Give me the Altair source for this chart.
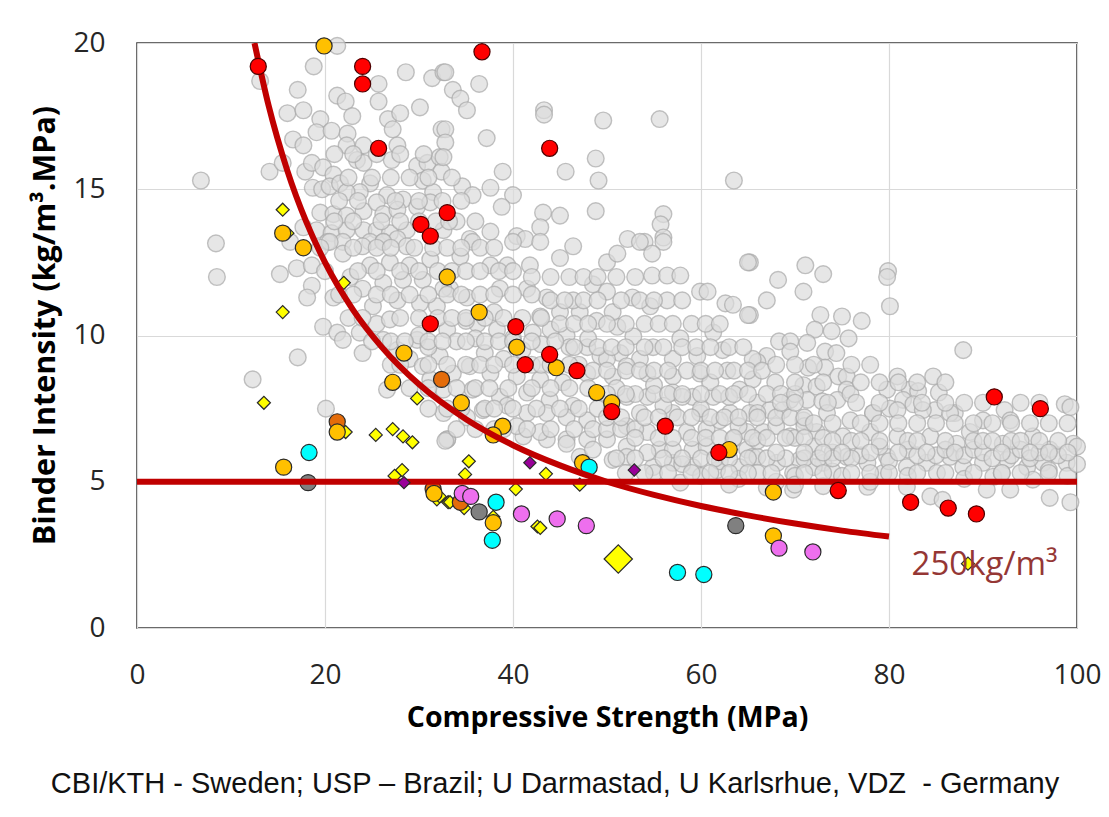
import altair as alt
import pandas as pd

# ---------------- data ----------------
gray_pts = [
    (6.8,15.3),(8.4,13.15),(8.5,12.0),(17.1,9.25),(12.3,8.5),(20.1,7.5),
    (21.3,19.9),(18.8,19.2),(13.1,18.7),(17.1,18.4),(21.3,18.2),(22.2,18.0),(25.7,18.6),(25.7,18.0),
    (28.6,19.0),(31.4,18.8),(32.6,19.0),(30.1,17.8),(16.0,17.6),(17.7,17.7),(19.5,17.4),(22.9,17.5),
    (26.7,17.4),(28.0,17.6),(27.2,17.05),(32.4,17.05),(16.6,16.7),(17.7,16.5),(19.1,16.95),(20.7,17.0),
    (22.4,16.9),(22.3,16.5),(24.1,16.5),(23.4,16.0),(24.1,15.9),(27.1,16.0),(27.7,16.5),(29.8,15.8),
    (30.9,15.9),(32.2,16.1),(32.4,15.6),(14.1,15.6),(15.5,15.9),(17.9,15.6),(18.6,15.9),(19.8,15.75),
    (20.9,15.5),(18.7,15.05),(19.7,15.0),(20.5,15.1),(21.6,15.2),(24.8,15.2),(23.7,14.9),(22.3,14.9),
    (26.6,14.8),(28.3,14.65),(30.4,15.3),(31.5,14.9),(19.5,14.2),(20.9,14.15),(22.3,14.1),(24.1,14.25),
    (25.5,14.55),(26.2,14.15),(27.7,14.3),(29.8,14.4),(31.2,14.55),(17.7,13.7),(19.1,13.6),(20.7,13.5),
    (22.3,13.6),(24.1,13.6),(25.5,13.6),(26.9,13.5),(28.7,13.6),(32.6,13.6),(16.3,13.2),(20.3,13.2),
    (21.9,13.2),(24.8,13.2),(26.2,13.2),(27.7,13.3),
    (32.8,19.0),(36.4,18.6),(33.6,18.4),(34.4,18.1),(35.1,17.7),(32.8,17.05),(37.2,16.75),(32.8,16.6),
    (32.6,16.1),(38.9,15.6),(37.6,15.05),(40.0,14.8),(38.8,14.4),(34.6,15.1),(35.7,14.8),(34.0,13.9),
    (37.6,13.55),(35.4,13.3),(43.3,17.7),(43.3,17.55),(49.6,17.35),(55.6,17.4),(48.8,16.05),(45.6,15.6),
    (49.1,15.3),(63.5,15.3),(43.2,14.2),(45.0,14.1),(48.8,14.25),(56.0,14.15),(55.7,13.8),(56.0,13.35),
    (52.2,13.3),(54.0,13.2),(42.9,13.7),(40.4,13.4),(41.3,13.3),
    (65.2,12.5),(71.1,12.4),(73.0,12.1),(68.2,11.9),(70.9,11.5),(67.0,11.2),(79.9,12.2),(79.8,12.0),
    (80.1,11.0),(65.2,10.7),(72.7,10.7),(75.0,10.65),(77.1,10.5),(72.1,10.2),(73.9,10.15),(75.7,9.9),
    (68.3,9.8),(69.5,9.8),(71.3,9.75),(73.2,9.45),(74.4,9.4),(87.9,9.5),(67.0,9.3),(69.5,9.45),
    (71.4,8.9),(73.2,8.9),(74.6,8.6),(75.5,8.6),(80.9,8.6),(84.7,8.6),(66.0,9.1),(67.9,8.4),(70.9,8.3),
    (72.3,8.25),(75.5,8.15),(79.8,8.15),(82.2,8.15),(85.3,8.05),(83.1,8.1),(69.5,7.8),(71.3,7.8),
    (72.9,7.75),(74.5,7.8),(75.9,8.0),(81.5,7.8),(82.6,7.65),(84.9,7.45),(87.0,7.35),(98.7,7.65),
    (92.3,7.45),(66.0,7.7),(67.3,7.45),(80.1,7.5),(78.3,7.35),
    (35.7,13.2),(40.0,13.2),(42.9,13.2),(46.4,13.05),(53.5,13.2),(56.0,13.2),(50.0,12.5),(51.1,12.8),
    (54.8,12.8),(65.0,12.5),(54.8,12.05),(56.4,12.05),(57.8,12.05),(59.9,11.5),(60.7,11.5),(62.6,11.1),
    (63.4,11.05),(65.0,10.7),(52.7,11.3),(56.4,11.2),(54.6,11.0),(48.5,11.75),(50.0,11.5),(61.3,10.1),
    (57.8,9.9),(54.9,9.6),(52.8,9.97),(51.1,10.3),(48.9,10.5),(50.6,10.8),(47.1,10.8),(45.0,10.8),
    (42.9,10.65),(43.6,11.3),(46.4,11.2),(41.5,11.6),(38.6,11.6),(39.4,12.4),(41.8,12.4),(45.0,12.65),
    (37.6,12.4),(34.4,12.7),(33.3,11.6),(35.1,11.3),(36.2,10.4),(38.3,10.2),(42.1,10.1),(45.7,10.0),
    (47.9,9.6),(49.3,9.3),(51.4,9.4),(53.5,9.2),(57.0,9.2),(59.6,9.3),(62.3,9.5),(62.8,8.8),(65.5,9.2),
    (59.9,8.7),(57.0,8.6),(54.3,8.7),(52.1,8.95),(50.6,8.6),(47.9,8.7),(45.3,8.4),(42.9,8.5),(40.4,8.6),
    (37.6,8.7),(35.4,8.95),(33.6,8.7),(35.7,8.15),(38.6,7.9),(41.5,8.05),(43.9,7.8),(46.4,7.6),(52.1,7.9),
    (54.3,7.9),(57.0,8.05),(59.1,7.9),(61.3,7.9),(64.1,8.15),(65.5,8.5),(53.5,7.35),(57.0,7.35),
    (59.9,7.35),(63.1,7.35),(65.2,7.35),(52.1,6.9),(54.3,6.7),(58.5,6.7),(60.6,6.8),(64.9,6.7),(47.9,7.1),
    (45.7,7.2),(43.6,7.35),(41.5,7.35),(39.4,7.6),(36.8,7.45),(35.1,7.2),(33.0,6.45),(41.1,6.55),
    (43.6,6.45),(45.7,6.45),(47.9,6.45),(50.0,6.45),(52.1,6.2),(55.6,6.1),(59.1,6.1),(64.9,6.1),
    (40.4,6.9),(42.9,6.7),(45.7,6.3),(47.1,5.85),(48.5,6.1),(50.6,5.75),(52.1,5.85),(54.9,5.5),(57.0,5.65),
    (57.8,4.97),(59.1,5.5),(61.7,5.4),(64.1,5.5),(65.5,5.85),(54.3,6.0),(57.0,6.1),(60.6,6.2),(63.4,6.45),
    (66.0,7.35),(68.7,7.45),(70.9,7.1),(73.4,7.35),(75.9,7.1),(78.3,7.35),(80.9,7.45),(83.6,7.45),
    (86.5,7.35),(90.0,7.1),(92.9,7.1),(99.3,7.55),(99.6,6.3),(66.6,6.7),(69.5,6.55),(72.3,6.7),(75.1,6.55),
    (78.0,6.7),(80.9,6.55),(84.4,6.55),(87.2,6.3),(88.6,6.7),(92.1,6.3),(95.3,6.55),(97.1,6.1),(66.0,5.85),
    (68.1,5.65),(70.5,5.75),(73.0,5.65),(75.5,5.85),(77.7,5.65),(79.8,5.85),(81.9,5.5),(84.0,5.65),
    (86.5,5.85),(87.9,5.5),(90.0,5.65),(92.6,5.75),(94.7,5.5),(96.4,5.65),(98.9,5.65),(69.8,5.3),
    (74.0,5.35),(79.4,5.3),(85.1,5.3),(91.1,5.17),(95.3,5.07),(84.4,4.5),(85.7,4.38),(90.4,4.73),
    (92.9,4.73),(97.1,4.45),(99.3,4.3),(81.9,4.83),(77.7,4.83),(69.8,4.73),
    (20.5,13.2),(21.9,12.8),(24.0,13.05),(26.2,13.2),(28.7,13.05),(15.2,12.1),(17.0,12.3),(18.6,12.4),
    (18.6,11.7),(18.1,11.3),(20.9,11.3),(22.7,12.0),(24.8,12.4),(26.9,12.5),(29.0,12.4),(31.2,12.6),
    (24.0,11.6),(26.2,11.8),(28.3,11.9),(30.4,11.9),(32.6,11.6),(25.1,11.0),(27.7,11.2),(30.1,11.1),
    (31.9,11.0),(19.8,10.3),(21.3,10.1),(21.9,9.85),(23.7,10.1),(25.5,10.4),(26.9,10.55),(24.0,9.4),
    (26.2,9.85),(27.7,9.5),(29.8,9.85),(29.0,9.2),(30.4,8.95),(32.2,9.3),(31.2,8.5),(32.6,8.15),
    (26.6,8.15),(32.6,7.35),(33.0,6.45),(32.8,6.4),
    (30.0,10.0),(31.0,9.6),(33.0,10.2),(34.0,9.8),(35.0,10.5),(36.0,9.9),(37.0,9.4),(38.0,10.8),
    (39.0,9.2),(40.0,9.9),(41.0,9.5),(42.0,9.0),(43.0,9.7),(44.0,10.2),(46.0,9.6),(47.0,9.0),(48.0,9.9),
    (50.0,9.2),(51.0,8.2),(53.0,8.0),(55.0,8.3),(56.0,7.6),(58.0,7.9),(60.0,7.5),(61.0,8.4),(62.0,7.1),
    (63.0,7.9),(64.0,6.9),(66.0,6.4),(68.0,6.9),(70.0,6.5),(71.0,6.9),(72.0,6.2),(74.0,6.0),(76.0,6.4),
    (77.0,5.9),(79.0,6.2),(80.0,5.7),(82.0,6.1),(83.0,5.9),(85.0,5.9),(86.0,6.1),(88.0,5.9),(89.0,6.1),
    (90.0,6.0),(91.0,5.8),(93.0,5.9),(94.0,6.1),(95.0,5.8),(96.0,6.0),(97.0,5.4),(98.0,5.9),(99.0,5.2),
    (100.0,5.6),(100.0,6.2),(55.0,5.3),(58.0,5.6),(60.0,5.2),(62.0,5.7),(64.0,5.1),(66.0,5.3),(68.0,5.0),
    (70.0,5.2),(72.0,5.5),(75.0,5.2),(78.0,5.0),(82.0,5.2),(88.0,5.1),(92.0,5.3),(63.0,4.9),(67.0,4.8),
    (70.0,4.9),(73.0,4.85),
    # denser core of the band
    (21,16.2),(23,16.2),(25.5,16.2),(28,16.2),(30.5,16.2),
    (22.5,15.4),(25,15.4),(27,15.4),(29,15.4),(31,15.4),(33.5,15.4),
    (21.5,14.6),(23.5,14.6),(27.5,14.6),(30,14.6),(32.5,14.6),(34.5,14.6),
    (21,13.9),(23,13.9),(26,13.9),(28,13.9),(30,13.9),(31.8,13.9),(33.2,13.9),(36,13.9),
    (19.5,13.0),(23,13.0),(25.5,13.0),(27,13.0),(29.5,13.0),(31.5,13.0),(33,13.0),(34.5,13.0),(36.5,13.0),(38,13.0),
    (20,12.2),(23.5,12.2),(25.5,12.2),(28,12.2),(30,12.2),(32,12.2),(33.5,12.2),(35,12.2),(36.5,12.2),(38.5,12.2),(40,12.2),
    (21.5,11.4),(23,11.4),(25.5,11.4),(27,11.4),(29,11.4),(31,11.4),(33,11.4),(34.5,11.4),(36.5,11.4),(38,11.4),(40,11.4),(42,11.4),
    (22.5,10.6),(24,10.6),(28,10.6),(30,10.6),(32,10.6),(33.5,10.6),(35,10.6),(37,10.6),(39,10.6),(41,10.6),(43,10.6),
    (25,9.8),(27,9.8),(28.5,9.8),(31,9.8),(32.5,9.8),(35,9.8),(37,9.8),(38.5,9.8),(40,9.8),(42,9.8),(44.5,9.8),
    (27,9.0),(28,9.0),(31,9.0),(33,9.0),(35,9.0),(36.5,9.0),(38,9.0),(40,9.0),(43,9.0),(44,9.0),(46,9.0),
    (29,8.2),(31,8.2),(34,8.2),(36,8.2),(37.5,8.2),(39.5,8.2),(42,8.2),(44,8.2),(46,8.2),(48,8.2),
    (31,7.5),(33,7.5),(34.5,7.5),(37,7.5),(38,7.5),(40,7.5),(42.5,7.5),(45,7.5),(47,7.5),(49,7.5),(50.5,7.5),
    (34,6.8),(36,6.8),(38,6.8),(39,6.8),(41.5,6.8),(44,6.8),(46.5,6.8),(48.5,6.8),(50,6.8),(51.5,6.8),(53,6.8),
    (42,12.0),(44,12.0),(46,12.0),(47.5,12.0),(49,12.0),(51,12.0),(53,12.0),
    (44,11.2),(45.5,11.2),(47.5,11.2),(49,11.2),(51.5,11.2),(53.5,11.2),(55,11.2),(58,11.2),
    (45,10.4),(46.5,10.4),(48,10.4),(50,10.4),(52,10.4),(54,10.4),(55.5,10.4),(57,10.4),(59,10.4),(60.5,10.4),(62,10.4),
    (46.5,9.6),(49,9.6),(50.5,9.6),(52,9.6),(54,9.6),(56,9.6),(58,9.6),(59.5,9.6),(61,9.6),(63,9.6),(64.5,9.6),
    (48.5,8.8),(50,8.8),(52,8.8),(53.5,8.8),(55,8.8),(56.5,8.8),(58.5,8.8),(60,8.8),(61.5,8.8),(63.5,8.8),(65,8.8),(66.5,8.8),
    (50,8.0),(52,8.0),(55,8.0),(56.5,8.0),(58,8.0),(60,8.0),(62,8.0),(63.5,8.0),(65,8.0),(67,8.0),(68.5,8.0),(70,8.0),
    (50,7.2),(51.5,7.2),(54,7.2),(55.5,7.2),(57.5,7.2),(59,7.2),(61,7.2),(62.5,7.2),(64,7.2),(66,7.2),(68,7.2),(69.5,7.2),(71,7.2),
    (53,6.5),(55.5,6.5),(57,6.5),(59,6.5),(60.5,6.5),(62,6.5),(63.5,6.5),(65.5,6.5),(67,6.5),(69,6.5),(71,6.5),(73,6.5),
    (51,5.8),(53,5.8),(56,5.8),(58,5.8),(60,5.8),(61.5,5.8),(63,5.8),(65,5.8),(67,5.8),(69,5.8),(71,5.8),(72.5,5.8),(74,5.8),(76,5.8),
    (52,5.3),(54,5.3),(56.5,5.3),(59,5.3),(61,5.3),(63,5.3),(65,5.3),(67.5,5.3),(71,5.3),(73,5.3),(76,5.3),(78,5.3),(80,5.3),
    (83,5.3),(86,5.3),(89,5.3),(92,5.3),(94,5.3),(97,5.3),
    (68,9.0),(70,9.0),(72,9.0),(76,9.0),(78,9.0),
    (70,8.4),(73,8.4),(77,8.4),(79,8.4),(81,8.4),(83,8.4),(86,8.4),
    (68.5,7.7),(70,7.7),(73.5,7.7),(76.5,7.7),(79,7.7),(83.5,7.7),(86,7.7),(88,7.7),(90,7.7),(94,7.7),(96,7.7),
    (72,7.0),(74,7.0),(77,7.0),(79,7.0),(81,7.0),(83,7.0),(85,7.0),(87,7.0),(89,7.0),(91,7.0),(93,7.0),(95,7.0),(97,7.0),(99,7.0),
    (74,6.4),(77,6.4),(79,6.4),(82,6.4),(83,6.4),(86,6.4),(89,6.4),(90,6.4),(91,6.4),(93,6.4),(94,6.4),(96,6.4),(98,6.4),
    (68,6.0),(71,6.0),(73,6.0),(75,6.0),(78,6.0),(81,6.0),(84,6.0),(87,6.0),(92,6.0),(95,6.0),(97,6.0),(99,6.0),
]

red_x = [12.9, 24.0, 24.0, 36.7, 25.7, 43.9, 33.0, 30.2, 31.2, 31.2, 40.3, 41.3, 43.9, 46.8, 50.5, 56.2,
         61.9, 74.6, 82.3, 86.3, 89.3, 91.2, 96.1]
red_y = [19.2, 19.2, 18.6, 19.7, 16.4, 16.4, 14.2, 13.8, 13.4, 10.4, 10.3, 9.0, 9.35, 8.8, 7.4, 6.9,
         6.0, 4.7, 4.3, 4.1, 3.9, 7.9, 7.5]

gold_x = [19.9, 17.7, 15.5, 33.0, 36.4, 28.4, 40.4, 44.6, 48.9, 50.5, 27.2, 34.5, 38.9, 37.9, 63.0, 21.3,
          15.6, 31.6, 37.9, 47.4, 67.7, 67.7]
gold_y = [19.9, 13.0, 13.5, 12.0, 10.8, 9.4, 9.6, 8.9, 8.05, 7.7, 8.4, 7.7, 6.9, 6.6, 6.1, 6.7,
          5.5, 4.6, 3.6, 5.65, 4.65, 3.15]

orange_x = [32.4, 21.3, 31.5, 34.4]
orange_y = [8.5, 7.05, 4.75, 4.3]

ydia_x = [15.5, 16.0, 22.0, 15.5, 13.5, 29.8, 22.2, 25.4, 27.2, 28.3, 29.3, 28.2, 27.4, 31.9, 33.1,
          35.3, 34.9, 32.2, 33.3, 34.8, 37.9, 43.5, 40.3, 47.1, 42.6, 42.9, 88.4]
ydia_y = [14.3, 13.5, 11.8, 10.8, 7.7, 7.85, 6.7, 6.6, 6.8, 6.55, 6.35, 5.4, 5.2, 4.4, 4.3,
          5.7, 5.25, 4.5, 4.3, 4.1, 3.8, 5.27, 4.75, 4.9, 3.47, 3.42, 2.2]

big_dia_x = [51.2]
big_dia_y = [2.36]

purple_x = [28.4, 41.8, 52.9]
purple_y = [4.97, 5.65, 5.4]

cyan_x = [18.3, 48.1, 38.2, 37.8, 57.5, 60.3]
cyan_y = [6.0, 5.5, 4.3, 3.0, 1.9, 1.83]

violet_x = [34.6, 35.5, 40.9, 44.7, 47.8, 68.3, 71.9]
violet_y = [4.6, 4.5, 3.9, 3.73, 3.5, 2.73, 2.6]

dgray_x = [18.2, 36.4, 63.7]
dgray_y = [4.97, 3.97, 3.5]

curve_x = [12.5, 14, 16, 18, 20, 23, 26, 30, 35, 40, 45, 50, 55, 60, 65, 70, 75, 80]
curve_y = [20.0, 17.86, 15.63, 13.89, 12.5, 10.87, 9.62, 8.33, 7.14, 6.25, 5.56, 5.0, 4.55, 4.17,
           3.85, 3.57, 3.33, 3.125]

limit_y = [5]

x_ticks = [0, 20, 40, 60, 80, 100]
y_ticks = [0, 5, 10, 15, 20]

label_text = ["250kg/m³"]
label_x = [82.4]
label_y = [2.15]

caption = "CBI/KTH - Sweden; USP – Brazil; U Darmastad, U Karlsrhue, VDZ\u00a0 - Germany"

W, H = 940, 585

# ---------------- scales / axes ----------------
xs = alt.Scale(domain=[0, 100], nice=False)
ys = alt.Scale(domain=[0, 20], nice=False)

x_axis = alt.Axis(
    values=x_ticks, title="Compressive Strength (MPa)", grid=True, ticks=False, domain=False,
    labelFont="Open Sans", labelFontSize=28, labelColor="#262626", labelPadding=33,
    labelFlush=False, titleFont="Open Sans", titleFontSize=28.5, titleFontWeight="bold",
    titleColor="#000000", titleX=W / 2, titleY=89, titleBaseline="middle",
    gridColor="#D9D9D9", gridWidth=1.2)
y_axis = alt.Axis(
    values=y_ticks, title="Binder Intensity (kg/m³.MPa)", grid=True, ticks=False, domain=False,
    labelFont="Open Sans", labelFontSize=28, labelColor="#262626", labelPadding=32,
    labelFlush=False, titleFont="Open Sans", titleFontSize=30.5, titleFontWeight="bold",
    titleColor="#000000", titleX=-92, titleY=282, titleBaseline="middle",
    gridColor="#D9D9D9", gridWidth=1.2)

X = alt.X("x:Q", scale=xs, axis=x_axis)
Y = alt.Y("y:Q", scale=ys, axis=y_axis)

gray_df = pd.DataFrame(gray_pts, columns=["x", "y"])

base_gray = alt.Chart(gray_df).mark_point(
    shape="circle", filled=True, size=280, fill="#DCDCDC", fillOpacity=0.7,
    stroke="#A8A8A8", strokeOpacity=0.7, strokeWidth=1.4
).encode(x=X, y=Y)

limit_df = pd.DataFrame({"y": limit_y})
limit = alt.Chart(limit_df).mark_rule(color="#C00000", strokeWidth=6).encode(y=Y)

curve_df = pd.DataFrame({"x": curve_x, "y": curve_y})
curve = alt.Chart(curve_df).mark_line(color="#C00000", strokeWidth=6, interpolate="monotone",
                                      clip=True).encode(x=X, y=Y)


def pts(xv, yv, shape, fill, size, stroke="#2b2b2b", sw=1.2):
    df = pd.DataFrame({"x": xv, "y": yv})
    return alt.Chart(df).mark_point(shape=shape, filled=True, size=size, fill=fill,
                                    fillOpacity=1, stroke=stroke, strokeWidth=sw,
                                    strokeOpacity=1).encode(x=X, y=Y)


layers = [
    base_gray,
    pts(ydia_x, ydia_y, "diamond", "#FFFF00", 170),
    pts(big_dia_x, big_dia_y, "diamond", "#FFFF00", 800),
    pts(orange_x, orange_y, "circle", "#E46C0A", 260),
    pts(gold_x, gold_y, "circle", "#FFC000", 260),
    pts(violet_x, violet_y, "circle", "#EE6FEE", 260),
    pts(cyan_x, cyan_y, "circle", "#00FFFF", 260),
    pts(dgray_x, dgray_y, "circle", "#808080", 260),
    limit,
    curve,
    pts(red_x, red_y, "circle", "#FF0000", 260, stroke="#4d0000"),
    pts(purple_x, purple_y, "diamond", "#990099", 150),
]

ann_df = pd.DataFrame({"x": label_x, "y": label_y, "t": label_text})
ann = alt.Chart(ann_df).mark_text(align="left", baseline="middle", font="Open Sans",
                                  fontSize=33, color="#953735").encode(x=X, y=Y, text="t:N")

cap_df = pd.DataFrame({"t": [caption]})
cap = alt.Chart(cap_df).mark_text(align="center", baseline="middle", font="Liberation Sans",
                                  fontSize=29, color="#111111").encode(
    x=alt.value(418), y=alt.value(741), text="t:N")

chart = alt.layer(*layers, ann, cap).properties(
    width=W, height=H,
    autosize=alt.AutoSizeParams(type="none"),
    padding={"left": 129, "top": 35, "right": 24, "bottom": 180},
    background="white",
).configure_view(stroke="#3a3a3a", strokeWidth=1.6)

chart.save("out.html", embed_options={"renderer": "svg", "actions": False})
